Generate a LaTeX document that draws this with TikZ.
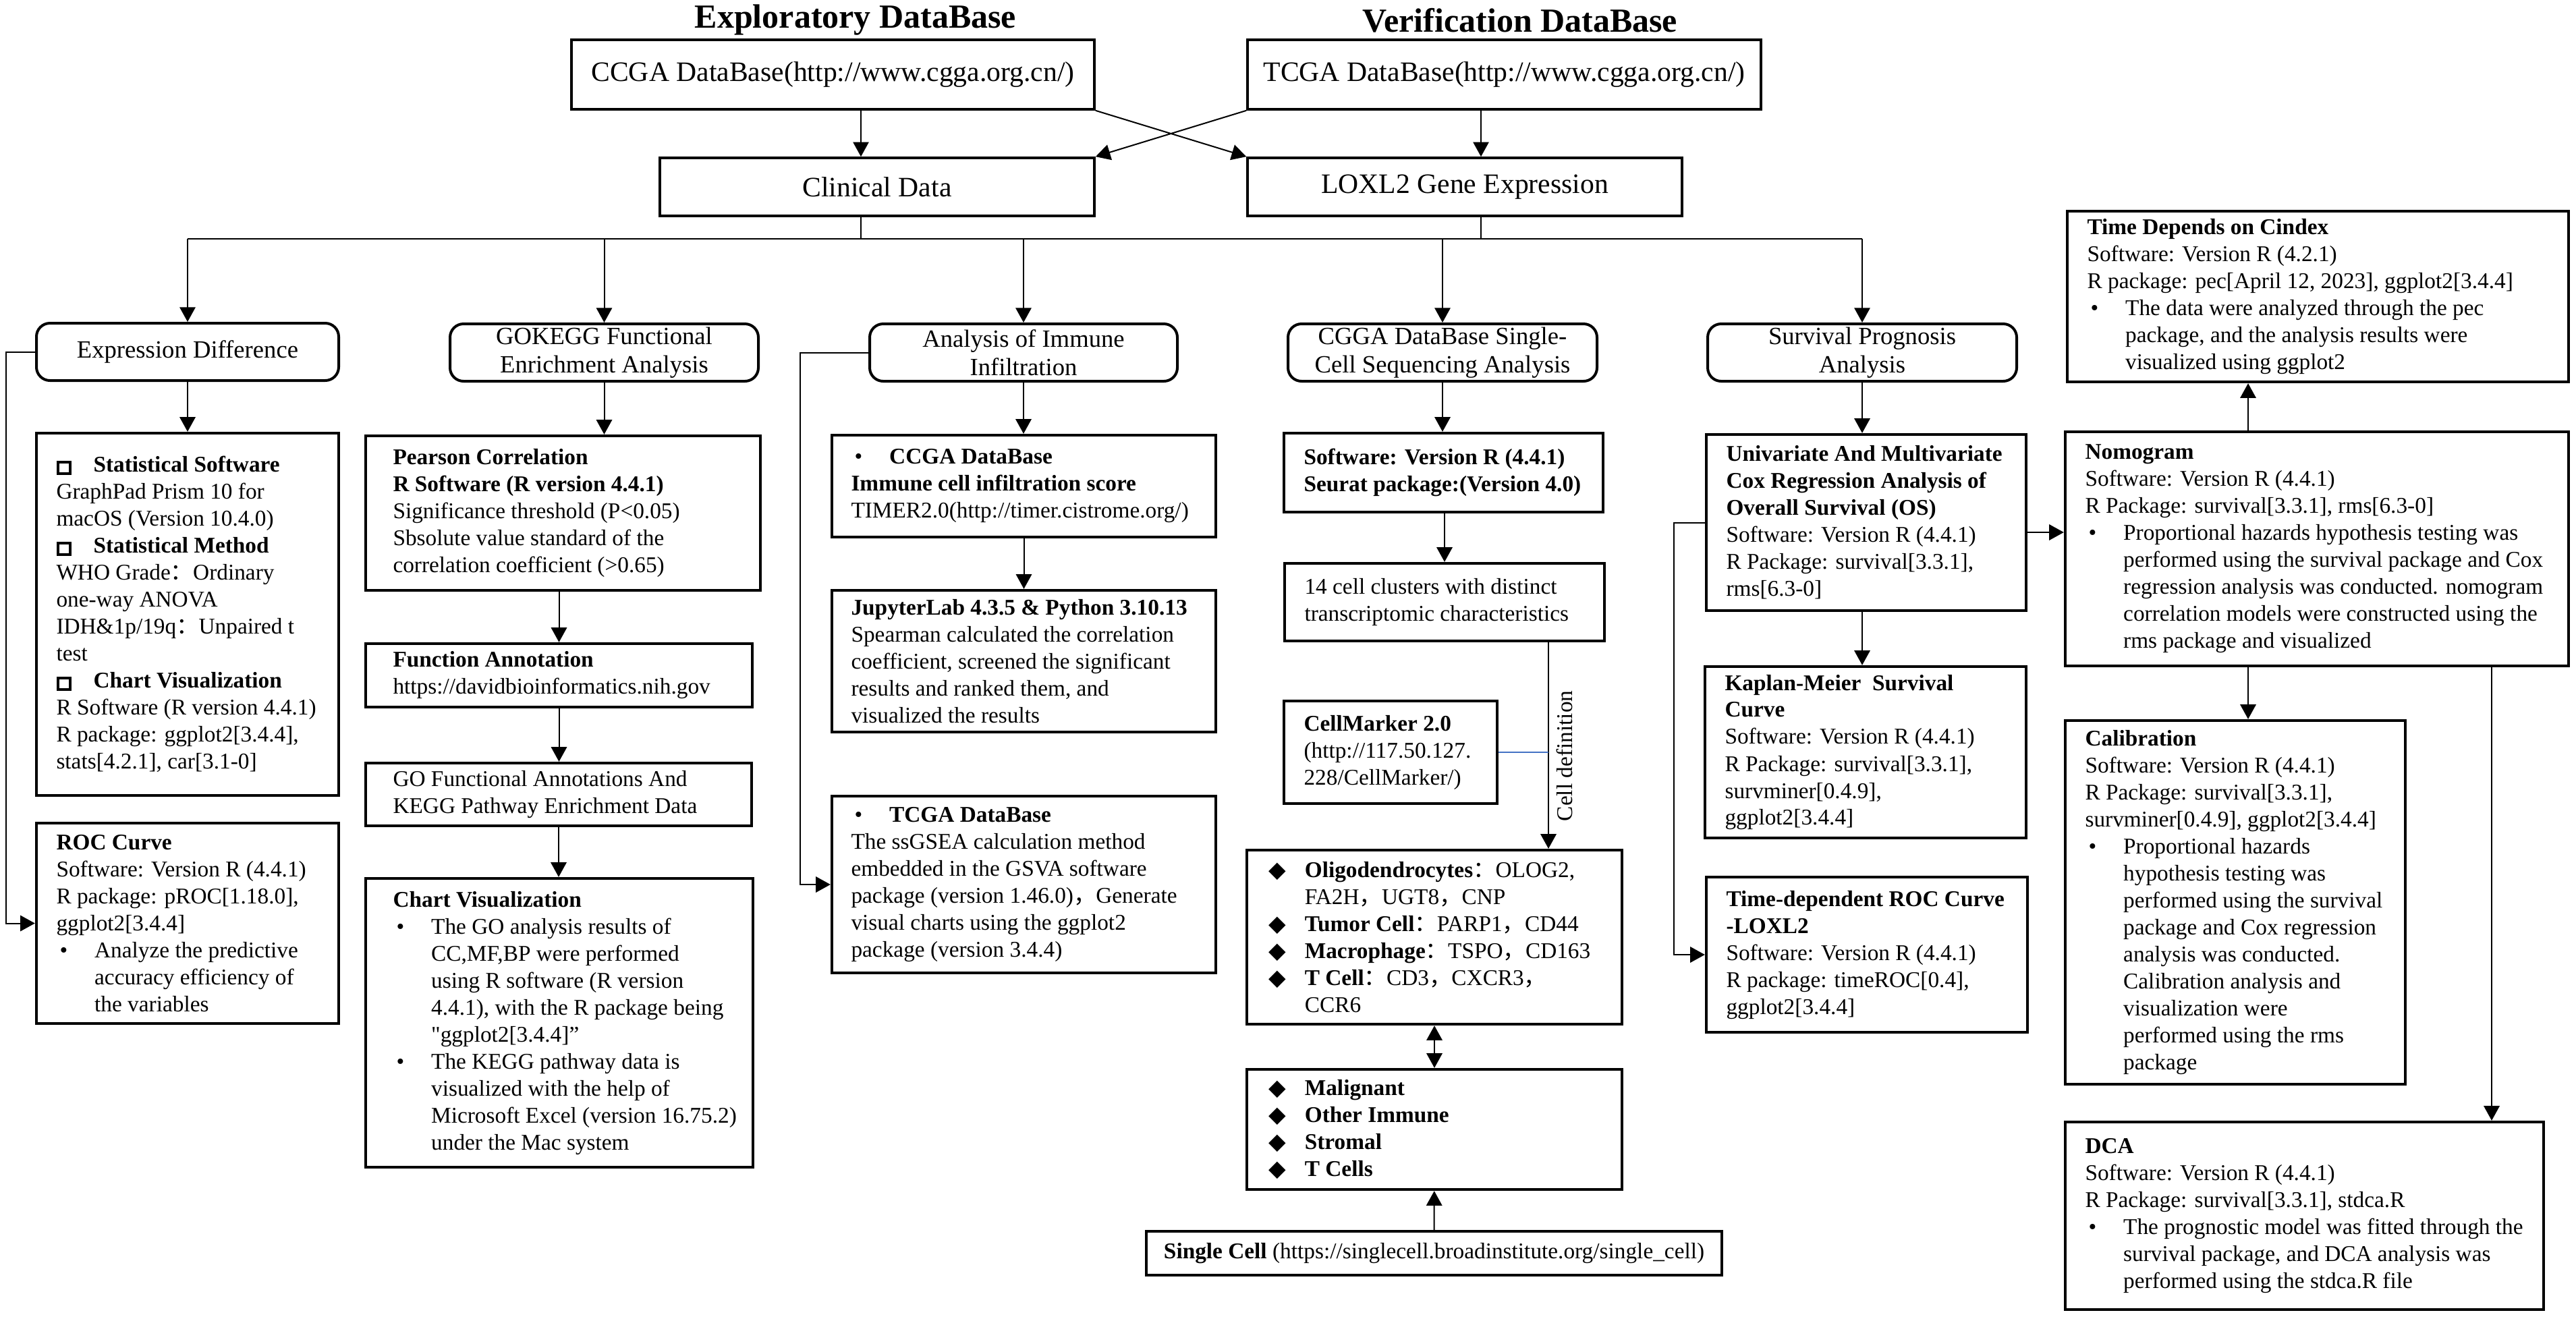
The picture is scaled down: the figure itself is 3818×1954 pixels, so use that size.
\documentclass[tikz,border=0pt]{standalone}
\usepackage{fontspec}
\setmainfont{Liberation Serif}
\newfontfamily\qfont{Liberation Serif}
\newfontfamily\cjkfont{Noto Sans CJK SC}
\newfontfamily\symfont{DejaVu Sans}
\usetikzlibrary{arrows.meta}

\newcommand{\fcol}{{\cjkfont ：}}
\newcommand{\fcom}{{\cjkfont ，}}
\newcommand{\bul}{\makebox[17pt][l]{\hspace{1.5pt}•}}
\newcommand{\hng}{\hspace*{17pt}}
\newcommand{\dmd}{\makebox[16pt][l]{\symfont ◆}}
\newcommand{\dhng}{\hspace*{16pt}}
\newcommand{\sqr}{\makebox[16.5pt][l]{\setlength{\fboxsep}{0pt}\setlength{\fboxrule}{1.3pt}\fbox{\rule{0pt}{3.8pt}\hspace{4.2pt}}}}

\begin{document}
\begin{tikzpicture}[x=0.3pt, y=-0.3pt,
    topbox/.style={draw, line width=1.1pt, inner sep=0pt, font=\fontsize{12.5}{15}\selectfont},
    head/.style={draw, line width=1.2pt, rounded corners=6pt, inner sep=0pt, align=center,
                 minimum height=25.5pt, font=\fontsize{11}{12.5}\selectfont},
    infobox/.style={draw, line width=1.3pt, inner sep=0pt},
    txt/.style={anchor=west, align=left, inner sep=0pt, font=\fontsize{10}{12}\selectfont},
    conn/.style={line width=0.6pt},
    arr/.style={line width=0.6pt, -{Triangle[length=6.5pt,width=7pt]}},
    dblarr/.style={line width=0.6pt, {Triangle[length=6.5pt,width=7pt]}-{Triangle[length=6.5pt,width=7pt]}}]
    \useasboundingbox (0,0) rectangle (3818,1954);

    % databases
    \node[font=\fontsize{15}{18}\selectfont\bfseries] (tExp) at (1268,30) {Exploratory DataBase};
    \node[font=\fontsize{15}{18}\selectfont\bfseries] (tVer) at (2253,30) {Verification DataBase};
    \node[topbox, minimum width=232.5pt, minimum height=30.9pt] (ccga) at (1234.5,110.5) {CCGA DataBase(http://www.cgga.org.cn/)};
    \node[topbox, minimum width=228.3pt, minimum height=30.9pt] (tcga) at (2229.5,110.5) {TCGA DataBase(http://www.cgga.org.cn/)};
    \node[topbox, minimum width=193.2pt, minimum height=25.8pt] (clin) at (1300,277) {Clinical Data};
    \node[topbox, minimum width=193.2pt, minimum height=25.8pt] (loxl) at (2171,277) {LOXL2 Gene Expression};

    \coordinate (ax1) at (1276,0);
    \coordinate (ax2) at (2195,0);
    \coordinate (bus) at (0,354);
    \draw[arr] (ccga.south -| ax1) -- (clin.north -| ax1);
    \draw[arr] (tcga.south -| ax2) -- (loxl.north -| ax2);
    \draw[arr] (ccga.south east) -- (loxl.north west);
    \draw[arr] (tcga.south west) -- (clin.north east);

    % analysis headings
    \node[head, minimum width=134.4pt] (hExp) at (278,521.5) {Expression Difference};
    \node[head, minimum width=137.1pt] (hGo) at (895.5,522.5) {GOKEGG Functional\\Enrichment Analysis};
    \node[head, minimum width=136.8pt] (hImm) at (1517,522.5) {Analysis of Immune\\Infiltration};
    \node[head, minimum width=137.4pt] (hSc) at (2138,522.5) {CGGA DataBase Single-\\Cell Sequencing Analysis};
    \node[head, minimum width=137.4pt] (hSurv) at (2760,522.5) {Survival Prognosis\\Analysis};

    \draw[conn] (clin.south -| ax1) -- (ax1 |- bus);
    \draw[conn] (loxl.south -| ax2) -- (ax2 |- bus);
    \draw[conn] (hExp.north |- bus) -- (hSurv.north |- bus);
    \foreach \h in {hExp, hGo, hImm, hSc, hSurv}
        \draw[arr] (\h.north |- bus) -- (\h.north);

    % expression difference
    \node[infobox, minimum width=134.4pt, minimum height=161.1pt] (expBox) at (278,910.5) {};
    \node[txt] (expBox-t) at ([xshift=9.3pt]expBox.west) {\sqr\textbf{Statistical Software}\\
        GraphPad Prism 10 for\\
        macOS (Version 10.4.0)\\
        \sqr\textbf{Statistical Method}\\
        WHO Grade\fcol Ordinary\\
        one-way ANOVA\\
        IDH\&1p/19q\fcol Unpaired t\\
        test\\
        \sqr\textbf{Chart Visualization}\\
        R Software (R version 4.4.1)\\
        R package: ggplot2[3.4.4],\\
        stats[4.2.1], car[3.1-0]};
    \node[infobox, minimum width=134.4pt, minimum height=89.1pt] (roc) at (278,1368.5) {};
    \node[txt] (roc-t) at ([xshift=9.3pt]roc.west) {\textbf{ROC Curve}\\
        Software: Version R (4.4.1)\\
        R package: pROC[1.18.0],\\
        ggplot2[3.4.4]\\
        \bul Analyze the predictive\\
        \hng accuracy efficiency of\\
        \hng the variables};
    \draw[arr] (hExp) -- (expBox);
    \draw[arr] (hExp.west) -- ++(-43,0) |- (roc.west);

    % GO / KEGG
    \node[infobox, minimum width=175.5pt, minimum height=68.7pt] (pear) at (834.5,760.5) {};
    \node[txt] (pear-t) at ([xshift=12.6pt]pear.west) {\textbf{Pearson Correlation}\\
        \textbf{R Software (R version 4.4.1)}\\
        Significance threshold (P<0.05)\\
        Sbsolute value standard of the\\
        correlation coefficient (>0.65)};
    \node[infobox, minimum width=171.9pt, minimum height=28.2pt] (func) at (828.5,1001) {};
    \node[txt] (func-t) at ([xshift=12.6pt]func.west) {\textbf{Function Annotation}\\
        https://davidbioinformatics.nih.gov};
    \node[infobox, minimum width=171.6pt, minimum height=27.9pt] (goB) at (828,1177.5) {};
    \node[txt] (goB-t) at ([xshift=12.6pt]goB.west) {GO Functional Annotations And\\
        KEGG Pathway Enrichment Data};
    \node[infobox, minimum width=172.2pt, minimum height=128.4pt] (chart) at (829,1516) {};
    \node[txt] (chart-t) at ([xshift=12.6pt]chart.west) {\textbf{Chart Visualization}\\
        \bul The GO analysis results of\\
        \hng CC,MF,BP were performed\\
        \hng using R software (R version\\
        \hng 4.4.1), with the R package being\\
        \hng {\qfont "}ggplot2[3.4.4]”\\
        \bul The KEGG pathway data is\\
        \hng visualized with the help of\\
        \hng Microsoft Excel (version 16.75.2)\\
        \hng under the Mac system};
    \draw[arr] (hGo.south) -- (hGo.south |- pear.north);
    \draw[arr] (func.north |- pear.south) -- (func.north);
    \draw[arr] (func.south) -- (func.south |- goB.north);
    \draw[arr] (goB.south) -- (goB.south |- chart.north);

    % immune infiltration
    \node[infobox, minimum width=170.7pt, minimum height=45.3pt] (immA) at (1517.5,720.5) {};
    \node[txt] (immA-t) at ([xshift=9pt]immA.west) {\bul\textbf{CCGA DataBase}\\
        \textbf{Immune cell infiltration score}\\
        TIMER2.0(http://timer.cistrome.org/)};
    \node[infobox, minimum width=170.7pt, minimum height=63pt] (immB) at (1517.5,980) {};
    \node[txt] (immB-t) at ([xshift=9pt]immB.west) {\textbf{JupyterLab 4.3.5 \& Python 3.10.13}\\
        Spearman calculated the correlation\\
        coefficient, screened the significant\\
        results and ranked them, and\\
        visualized the results};
    \node[infobox, minimum width=170.7pt, minimum height=78.6pt] (immC) at (1517.5,1311) {};
    \node[txt] (immC-t) at ([xshift=9pt]immC.west) {\bul\textbf{TCGA DataBase}\\
        The ssGSEA calculation method\\
        embedded in the GSVA software\\
        package (version 1.46.0)\fcom Generate\\
        visual charts using the ggplot2\\
        package (version 3.4.4)};
    \draw[arr] (hImm.south) -- (hImm.south |- immA.north);
    \draw[arr] (immA) -- (immB);
    \draw[arr] (hImm.west) -- ++(-101,0) |- (immC.west);

    % single cell
    \node[infobox, minimum width=141.9pt, minimum height=35.1pt] (scA) at (2139.5,700.5) {};
    \node[txt] (scA-t) at ([xshift=9.3pt]scA.west) {\textbf{Software: Version R (4.4.1)}\\
        \textbf{Seurat package:(Version 4.0)}};
    \node[infobox, minimum width=142.2pt, minimum height=34.5pt] (scB) at (2141,892.5) {};
    \node[txt] (scB-t) at ([xshift=9.3pt]scB.west) {14 cell clusters with distinct\\
        transcriptomic characteristics};
    \node[infobox, minimum width=94.8pt, minimum height=45.6pt] (cmk) at (2061,1115) {};
    \node[txt] (cmk-t) at ([xshift=9.3pt]cmk.west) {\textbf{CellMarker 2.0}\\
        (http://117.50.127.\\
        228/CellMarker/)};
    \node[infobox, minimum width=166.8pt, minimum height=77.4pt] (olig) at (2126,1389) {};
    \node[txt] (olig-t) at ([xshift=10.2pt]olig.west) {\dmd\textbf{Oligodendrocytes}\fcol OLOG2,\\
        \dhng FA2H\fcom UGT8\fcom CNP\\
        \dmd\textbf{Tumor Cell}\fcol PARP1\fcom CD44\\
        \dmd\textbf{Macrophage}\fcol TSPO\fcom CD163\\
        \dmd\textbf{T Cell}\fcol CD3\fcom CXCR3\fcom\\
        \dhng CCR6};
    \node[infobox, minimum width=166.8pt, minimum height=53.4pt] (mal) at (2126,1674) {};
    \node[txt] (mal-t) at ([xshift=10.2pt]mal.west) {\dmd\textbf{Malignant}\\
        \dmd\textbf{Other Immune}\\
        \dmd\textbf{Stromal}\\
        \dmd\textbf{T Cells}};
    \node[infobox, minimum width=255.9pt, minimum height=19.5pt, font=\fontsize{10}{12}\selectfont] (scell) at (2125.5,1857.5)
        {\textbf{Single Cell} (https://singlecell.broadinstitute.org/single\_cell)};
    \coordinate (cdx) at (2295,0);
    \draw[arr] (hSc.south) -- (hSc.south |- scA.north);
    \draw[arr] (scA.south -| scB) -- (scB.north);
    \draw[arr] (scB.south -| cdx) -- node[pos=0.55, rotate=90, anchor=north, font=\fontsize{10}{12}\selectfont] {Cell definition} (olig.north -| cdx);
    \draw[line width=0.5pt, color={rgb,255:red,68;green,114;blue,196}] (cmk.east) -- (cmk.east -| cdx);
    \draw[dblarr] (olig) -- (mal);
    \draw[arr] (scell) -- (mal);

    % survival prognosis
    \node[infobox, minimum width=142.2pt, minimum height=78.3pt] (uni) at (2766,774.5) {};
    \node[txt] (uni-t) at ([xshift=9.3pt]uni.west) {\textbf{Univariate And Multivariate}\\
        \textbf{Cox Regression Analysis of}\\
        \textbf{Overall Survival (OS)}\\
        Software: Version R (4.4.1)\\
        R Package: survival[3.3.1],\\
        rms[6.3-0]};
    \node[infobox, minimum width=142.8pt, minimum height=76.2pt] (km) at (2765,1115) {};
    \node[txt] (km-t) at ([xshift=9.3pt]km.west) {\textbf{Kaplan-Meier\ \ Survival}\\
        \textbf{Curve}\\
        Software: Version R (4.4.1)\\
        R Package: survival[3.3.1],\\
        survminer[0.4.9],\\
        ggplot2[3.4.4]};
    \node[infobox, minimum width=142.8pt, minimum height=69pt] (troc) at (2767,1415) {};
    \node[txt] (troc-t) at ([xshift=9.3pt]troc.west) {\textbf{Time-dependent ROC Curve}\\
        \textbf{-LOXL2}\\
        Software: Version R (4.4.1)\\
        R package: timeROC[0.4],\\
        ggplot2[3.4.4]};
    \draw[arr] (hSurv.south) -- (hSurv.south |- uni.north);
    \draw[arr] (uni.south -| hSurv) -- (km.north -| hSurv);
    \draw[arr] (uni.west) -- ++(-46,0) |- (troc.west);

    % prognostic models
    \node[infobox, minimum width=222.9pt, minimum height=75.9pt] (cidx) at (3435.5,439.5) {};
    \node[txt] (cidx-t) at ([xshift=9.3pt]cidx.west) {\textbf{Time Depends on Cindex}\\
        Software: Version R (4.2.1)\\
        R package: pec[April 12, 2023], ggplot2[3.4.4]\\
        \bul The data were analyzed through the pec\\
        \hng package, and the analysis results were\\
        \hng visualized using ggplot2};
    \node[infobox, minimum width=223.8pt, minimum height=104.1pt] (nomo) at (3434,813.5) {};
    \node[txt] (nomo-t) at ([xshift=9.3pt]nomo.west) {\textbf{Nomogram}\\
        Software: Version R (4.4.1)\\
        R Package: survival[3.3.1], rms[6.3-0]\\
        \bul Proportional hazards hypothesis testing was\\
        \hng performed using the survival package and Cox\\
        \hng regression analysis was conducted. nomogram\\
        \hng correlation models were constructed using the\\
        \hng rms package and visualized};
    \node[infobox, minimum width=151.2pt, minimum height=161.7pt] (calib) at (3313,1337.5) {};
    \node[txt] (calib-t) at ([xshift=9.3pt]calib.west) {\textbf{Calibration}\\
        Software: Version R (4.4.1)\\
        R Package: survival[3.3.1],\\
        survminer[0.4.9], ggplot2[3.4.4]\\
        \bul Proportional hazards\\
        \hng hypothesis testing was\\
        \hng performed using the survival\\
        \hng package and Cox regression\\
        \hng analysis was conducted.\\
        \hng Calibration analysis and\\
        \hng visualization were\\
        \hng performed using the rms\\
        \hng package};
    \node[infobox, minimum width=212.7pt, minimum height=83.4pt] (dca) at (3415.5,1802) {};
    \node[txt] (dca-t) at ([xshift=9.3pt]dca.west) {\textbf{DCA}\\
        Software: Version R (4.4.1)\\
        R Package: survival[3.3.1], stdca.R\\
        \bul The prognostic model was fitted through the\\
        \hng survival package, and DCA analysis was\\
        \hng performed using the stdca.R file};
    \coordinate (ax3) at (3332,789);
    \coordinate (ax4) at (3693,0);
    \draw[arr] (uni.east |- ax3) -- (nomo.west |- ax3);
    \draw[arr] (nomo.north -| ax3) -- (cidx.south -| ax3);
    \draw[arr] (nomo.south -| ax3) -- (calib.north -| ax3);
    \draw[arr] (nomo.south -| ax4) -- (dca.north -| ax4);
\end{tikzpicture}
\end{document}
